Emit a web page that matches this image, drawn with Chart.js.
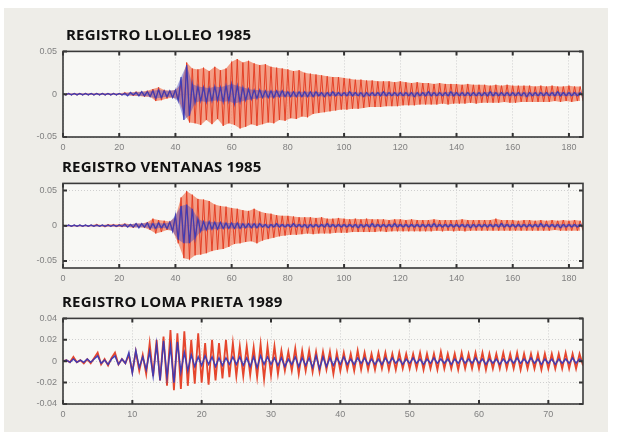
<!DOCTYPE html>
<html><head><meta charset="utf-8">
<script src="https://cdn.jsdelivr.net/npm/chart.js@4"></script>
<style>
html,body{margin:0;padding:0;background:#fff;}
#wrap{position:relative;width:619px;height:439px;overflow:hidden;background:#fff;}
#panel{position:absolute;left:4px;top:8px;width:604px;height:424px;background:#eeede8;}
.ttl{position:absolute;font-family:"Open Sans",sans-serif;font-weight:700;font-size:15px;line-height:15px;letter-spacing:0.2px;color:#111;white-space:nowrap;}
canvas{position:absolute;left:0;}
</style></head><body>
<div id="wrap"><div id="panel"></div>
<canvas id="c1" width="619" height="115" style="top:40px"></canvas>
<canvas id="c2" width="619" height="114" style="top:172px"></canvas>
<canvas id="c3" width="619" height="115" style="top:307px"></canvas>
<div class="ttl" id="t1" style="left:66px;top:27px"></div>
<div class="ttl" id="t2" style="left:62px;top:159px"></div>
<div class="ttl" id="t3" style="left:62px;top:294px"></div>
</div>
<script>
// ---- texts ----
const titles = ["REGISTRO LLOLLEO 1985", "REGISTRO VENTANAS 1985", "REGISTRO LOMA PRIETA 1989"];

// ---- sampling (s) ----
const sampleStep = [1, 1, 0.5];

// ---- axis ticks (y values in units of 0.001) ----
const llolleoXTicks = [0, 20, 40, 60, 80, 100, 120, 140, 160, 180];
const llolleoYTicks = [-50, 0, 50];
const llolleoYLabels = ["-0.05", "0", "0.05"];
const ventanasXTicks = [0, 20, 40, 60, 80, 100, 120, 140, 160, 180];
const ventanasYTicks = [-50, 0, 50];
const ventanasYLabels = ["-0.05", "0", "0.05"];
const lomaXTicks = [0, 10, 20, 30, 40, 50, 60, 70];
const lomaYTicks = [-40, -20, 0, 20, 40];
const lomaYLabels = ["-0.04", "-0.02", "0", "0.02", "0.04"];

// ---- series values (units of 0.001), one sample per sampleStep ----
const llolleoRed = [
 1,-1,1,-1,1,-1,1,-1,1,-1,
 1,-1,1,-1,1,-1,1,-1,1,-1,
 1,-1,2,-1,2,-2,3,-2,3,-3,
 4,-3,6,-8,8,-7,5,-5,4,-4,
 5,-6,12,-22,37,-33,30,-34,29,-36,
 31,-30,27,-35,32,-29,28,-37,30,-34,
 38,-36,41,-40,37,-38,39,-35,36,-37,
 34,-35,35,-33,32,-34,31,-30,30,-31,
 29,-28,27,-29,28,-26,25,-27,24,-23,
 23,-22,22,-21,21,-20,20,-19,20,-18,
 19,-18,18,-17,17,-17,17,-16,16,-15,
 16,-15,15,-15,15,-14,15,-14,14,-14,
 15,-13,14,-13,13,-13,14,-12,13,-12,
 13,-12,12,-12,13,-11,12,-12,12,-11,
 12,-11,11,-11,12,-10,11,-11,11,-10,
 11,-10,10,-10,11,-10,10,-9,11,-10,
 10,-10,10,-9,10,-9,10,-9,9,-9,
 10,-9,9,-9,10,-8,9,-9,9,-8,
 10,-9,9,-8,9,-8];
const llolleoBlue = [
 1,-1,1,-1,1,-1,1,-1,1,-1,
 1,-1,1,-1,1,-1,1,-1,1,-1,
 1,-1,1,-2,2,-1,2,-2,3,-2,
 3,-3,4,-5,5,-4,4,-3,4,-4,
 5,-8,20,-30,34,-25,12,-10,9,-8,
 8,-9,7,-8,9,-7,8,-9,10,-8,
 12,-11,10,-9,8,-7,6,-6,5,-5,
 5,-4,4,-4,4,-4,4,-3,4,-3,
 3,-3,3,-3,3,-3,3,-3,3,-3,
 3,-2,2,-3,2,-2,3,-2,2,-2,
 2,-2,3,-2,2,-2,2,-3,2,-2,
 2,-2,2,-2,3,-2,2,-2,2,-2,
 2,-2,2,-2,2,-3,2,-2,2,-2,
 3,-2,2,-2,2,-2,2,-2,3,-2,
 2,-2,2,-2,2,-2,2,-2,2,-2,
 2,-2,3,-2,2,-2,2,-2,2,-2,
 2,-2,2,-2,2,-3,2,-2,2,-2,
 2,-2,2,-2,2,-2,3,-2,2,-2,
 2,-2,2,-2,2,-2];
const ventanasRed = [
 1,-1,1,-1,1,-1,1,-1,1,-1,
 1,-1,2,-1,1,-2,2,-1,2,-2,
 2,-2,3,-2,2,-3,3,-2,3,-3,
 5,-6,10,-11,8,-9,7,-6,6,-7,
 12,-25,40,-46,49,-48,44,-42,38,-41,
 37,-39,35,-36,30,-34,28,-33,27,-30,
 25,-26,24,-25,22,-23,21,-22,24,-25,
 20,-21,18,-19,17,-17,15,-15,14,-14,
 14,-13,13,-13,12,-12,12,-11,12,-12,
 11,-11,12,-11,10,-11,10,-10,11,-10,
 10,-10,9,-9,10,-9,9,-9,10,-9,
 9,-9,9,-8,9,-9,8,-8,9,-8,
 9,-8,8,-8,9,-8,8,-8,8,-8,
 8,-8,9,-7,8,-8,8,-7,8,-8,
 8,-7,9,-8,8,-7,8,-7,8,-7,
 8,-7,8,-7,10,-7,8,-7,8,-7,
 8,-7,7,-7,8,-7,8,-7,7,-7,
 8,-7,7,-7,8,-6,7,-7,8,-7,
 7,-7,8,-7,7,-7];
const ventanasBlue = [
 1,-1,1,-1,1,-1,1,-1,1,-1,
 1,-1,1,-1,1,-1,1,-1,1,-1,
 1,-1,2,-2,2,-2,3,-3,3,-2,
 4,-4,3,-4,4,-3,3,-4,5,-8,
 15,-20,28,-25,30,-25,24,-18,10,-8,
 6,-6,6,-5,5,-5,5,-4,4,-4,
 4,-4,4,-4,3,-3,3,-3,3,-3,
 3,-2,2,-3,2,-2,3,-2,2,-2,
 2,-2,3,-2,2,-2,2,-3,2,-2,
 2,-2,2,-2,3,-2,2,-2,2,-2,
 2,-2,2,-2,2,-3,2,-2,2,-2,
 3,-2,2,-2,2,-2,2,-2,3,-2,
 2,-2,2,-2,2,-2,2,-2,2,-2,
 2,-2,3,-2,2,-2,2,-2,2,-2,
 2,-2,2,-2,2,-3,2,-2,2,-2,
 2,-2,2,-2,2,-2,3,-2,2,-2,
 2,-2,2,-2,2,-2,2,-2,2,-2,
 3,-2,2,-2,2,-2,2,-3,2,-2,
 2,-2,2,-2,2,-2];
const lomaRed = [
 0,1,-1,4,-1,1,-2,2,-2,3,
 8,-3,2,-4,3,8,-3,2,-2,6,
 -10,9,-9,6,-12,17,-14,20,-18,23,
 -23,29,-27,26,-26,28,-23,20,-21,26,
 -20,17,-22,20,-18,17,-16,20,-15,17,
 -14,14,-14,14,-13,13,-15,16,-17,14,
 -13,14,-12,10,-9,9,-9,12,-12,10,
 -9,10,-10,9,-10,9,-8,9,-12,8,
 -9,8,-8,7,-9,10,-8,8,-8,7,
 -8,8,-7,8,-8,7,-8,8,-7,7,
 -7,7,-7,8,-8,7,-7,7,-8,9,
 -7,7,-7,7,-8,8,-7,7,-7,8,
 -7,8,-8,7,-7,7,-7,8,-7,7,
 -7,8,-8,7,-7,7,-7,7,-8,7,
 -7,7,-7,7,-7,8,-7,7,-7,7,-4];
const lomaBlue = [
 0,1,-1,2,-1,1,-1,2,-1,2,
 5,-2,1,-3,2,5,-3,2,-2,8,
 -11,10,-6,4,-8,9,-14,16,-18,19,
 -15,14,-20,18,-10,8,-9,6,-5,4,
 -4,5,-3,4,-5,3,-4,3,-3,4,
 -3,4,-4,3,-5,4,-6,5,-3,4,
 -3,3,-4,3,-5,2,-3,4,-5,3,
 -4,3,-6,5,-7,4,-5,3,-4,3,
 -3,4,-3,2,-3,3,-2,3,-3,2,
 -3,2,-3,3,-2,3,-2,2,-3,2,
 -2,3,-2,2,-3,2,-2,3,-2,2,
 -2,2,-3,2,-2,3,-2,2,-2,3,
 -2,2,-3,2,-2,2,-3,2,-2,2,
 -2,3,-2,2,-2,3,-2,2,-3,2,
 -2,2,-3,2,-2,2,-2,3,-2,2,-1];

// ---- styling ----
const RED = "rgba(228,60,34,0.95)";
const RED_FILL = "rgba(242,128,96,0.75)";
const BLUE = "rgba(58,58,182,0.95)";
const BLUE_FILL = "rgba(70,70,190,0.42)";
const TICK_FONT = {family: "'Liberation Sans', Arial, sans-serif", size: 9};

document.getElementById("t1").textContent = titles[0];
document.getElementById("t2").textContent = titles[1];
document.getElementById("t3").textContent = titles[2];

const framePlugin = {
  id: "frame",
  beforeDraw(chart) {
    const {ctx, chartArea: a} = chart;
    ctx.save();
    ctx.fillStyle = "#f8f8f5";
    ctx.fillRect(a.left, a.top, a.right - a.left, a.bottom - a.top);
    ctx.restore();
  },
  afterDatasetsDraw(chart) {
    const {ctx, chartArea: a, scales: {x, y}} = chart;
    ctx.save();
    ctx.setLineDash([]);
    ctx.strokeStyle = "#333";
    ctx.lineWidth = 2;
    ctx.beginPath();
    x.ticks.forEach(t => {
      const p = x.getPixelForValue(t.value);
      ctx.moveTo(p, a.top); ctx.lineTo(p, a.top + 4);
      ctx.moveTo(p, a.bottom); ctx.lineTo(p, a.bottom - 4);
    });
    y.ticks.forEach(t => {
      const p = y.getPixelForValue(t.value);
      ctx.moveTo(a.left, p); ctx.lineTo(a.left + 4, p);
      ctx.moveTo(a.right, p); ctx.lineTo(a.right - 4, p);
    });
    ctx.stroke();
    ctx.lineWidth = 1.6;
    ctx.strokeStyle = "#3a3a3a";
    ctx.strokeRect(a.left, a.top, a.right - a.left, a.bottom - a.top);
    ctx.restore();
  }
};

function makeChart(id, step, red, blue, xMax, xTicks, yMin, yMax, yTicks, yLabels, lw, withFill) {
  const pts = arr => arr.map((v, i) => ({x: i * step, y: v}));
  const upper = arr => pts(arr).filter(p => p.y >= 0);
  const lower = arr => pts(arr).filter(p => p.y <= 0);
  const base = {pointRadius: 0, tension: 0};
  const datasets = [
    {...base, data: pts(blue), borderColor: BLUE, borderWidth: lw[1], order: 0},
    {...base, data: pts(red), borderColor: RED, borderWidth: lw[0], order: 2}
  ];
  if (withFill) {
    datasets.push(
      {...base, data: upper(blue), borderWidth: 0, borderColor: "rgba(0,0,0,0)", backgroundColor: BLUE_FILL, fill: "+1", order: 1},
      {...base, data: lower(blue), borderWidth: 0, borderColor: "rgba(0,0,0,0)", fill: false, order: 1},
      {...base, data: upper(red), borderWidth: 0, borderColor: "rgba(0,0,0,0)", backgroundColor: RED_FILL, fill: "+1", order: 3},
      {...base, data: lower(red), borderWidth: 0, borderColor: "rgba(0,0,0,0)", fill: false, order: 3}
    );
  }
  return new Chart(document.getElementById(id), {
    type: "line",
    data: {datasets},
    options: {
      responsive: false, animation: false,
      layout: {padding: {left: 0, right: 36, top: 11, bottom: 0}},
      plugins: {legend: {display: false}, tooltip: {enabled: false}},
      scales: {
        x: {
          type: "linear", min: 0, max: xMax,
          afterBuildTicks: s => { s.ticks = xTicks.map(v => ({value: v})); },
          afterFit: s => { s.height = 18; },
          ticks: {color: "#808080", font: TICK_FONT, padding: 5, maxRotation: 0, autoSkip: false,
                  callback: v => String(v)},
          grid: {color: "#cfcfcf", lineWidth: 1, drawTicks: false},
          border: {display: false, dash: [1, 2]}
        },
        y: {
          min: yMin, max: yMax,
          afterBuildTicks: s => { s.ticks = yTicks.map(v => ({value: v})); },
          afterFit: s => { s.width = 63; },
          ticks: {color: "#808080", font: TICK_FONT, padding: 6, autoSkip: false,
                  callback: v => yLabels[yTicks.indexOf(v)]},
          grid: {color: "#cfcfcf", lineWidth: 1, drawTicks: false},
          border: {display: false, dash: [1, 2]}
        }
      }
    },
    plugins: [framePlugin]
  });
}

makeChart("c1", sampleStep[0], llolleoRed, llolleoBlue, 185, llolleoXTicks, -50, 50, llolleoYTicks, llolleoYLabels, [1, 1.2], true);
makeChart("c2", sampleStep[1], ventanasRed, ventanasBlue, 185, ventanasXTicks, -60, 60, ventanasYTicks, ventanasYLabels, [1, 1.2], true);
makeChart("c3", sampleStep[2], lomaRed, lomaBlue, 75, lomaXTicks, -40, 40, lomaYTicks, lomaYLabels, [1.8, 1.5], false);
</script>
</body></html>
